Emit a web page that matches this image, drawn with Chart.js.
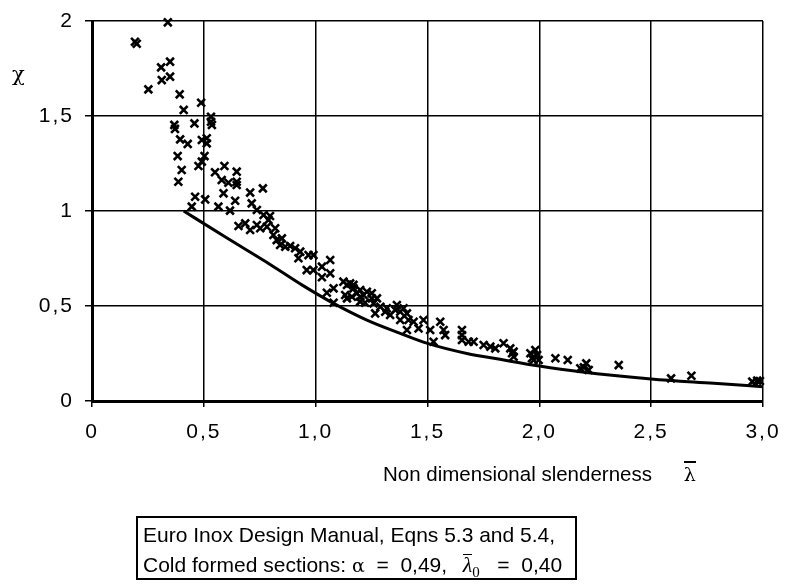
<!DOCTYPE html>
<html lang="en">
<head>
  <meta charset="UTF-8">
  <title>Buckling reduction factor vs slenderness</title>
  <script src="https://cdn.jsdelivr.net/npm/chart.js"></script>
  <style>
    body {
      margin: 0;
      background: #fff;
      font-family: 'Liberation Sans', Arial, sans-serif;
      color: #000;
    }

    .wrap {
      position: relative;
      width: 785px;
      height: 586px;
    }

    .chi {
      position: absolute;
      left: 12px;
      top: 62px;
      font-family: 'DejaVu Serif', 'Liberation Serif', serif;
      font-size: 21px;
    }

    .x-title {
      position: absolute;
      left: 383px;
      top: 461px;
      font-size: 20.5px;
      line-height: 1;
      white-space: nowrap;
    }

    .bar {
      display: inline-block;
      margin-left: 26px;
      border-top: 2px solid #000;
      padding-top: 4px;
      line-height: 0.8;
      font-family: 'DejaVu Serif', 'Liberation Serif', serif;
      font-size: 19px;
    }

    .note {
      position: absolute;
      left: 136px;
      top: 516px;
      width: 432px;
      height: 58px;
      border: 2px solid #000;
      padding: 2px 0 0 5px;
      font-size: 21px;
      line-height: 30px;
      white-space: nowrap;
    }

    .note .sym {
      font-family: 'DejaVu Serif', 'Liberation Serif', serif;
      font-size: 19px;
    }

    .note .lam {
      display: inline-block;
      border-top: 1.5px solid #000;
      line-height: 0.9;
      font-family: 'Liberation Serif', serif;
      font-style: italic;
      font-size: 22px;
      margin-left: 4px;
    }

    .note sub {
      font-family: 'Liberation Serif', serif;
      font-size: 15px;
    }
  </style>
</head>
<body>
  <div class="wrap">
    <canvas id="chart"></canvas>
    <div class="chi">χ</div>
    <div class="x-title">Non dimensional slenderness <span class="bar">λ</span></div>
    <div class="note">
      Euro Inox Design Manual, Eqns 5.3 and 5.4,<br>
      Cold formed sections: <span class="sym">α</span>&nbsp; =&nbsp; 0,49,&nbsp; <span class="lam">λ</span><sub>0</sub>&nbsp;&nbsp; =&nbsp; 0,40
    </div>
  </div>

  <script>
    // Test results
    const testLambda = [
      0.339, 0.192, 0.200, 0.309, 0.349, 0.312, 0.349, 0.252, 0.392, 0.488,
      0.410, 0.532, 0.532, 0.536, 0.368, 0.371, 0.458, 0.394, 0.428, 0.491,
      0.513, 0.513, 0.383, 0.503, 0.491, 0.476, 0.401, 0.592, 0.647, 0.550,
      0.580, 0.610, 0.647, 0.647, 0.386, 0.764, 0.707, 0.588, 0.461, 0.506,
      0.640, 0.714, 0.565, 0.446, 0.617, 0.737, 0.767, 0.796, 0.789, 0.655,
      0.685, 0.707, 0.737, 0.752, 0.782, 0.819, 0.811, 0.826, 0.849, 0.841,
      0.864, 0.886, 0.908, 0.931, 0.968, 0.990, 0.923, 0.960, 0.990, 1.028,
      1.065, 1.065, 1.028, 1.050, 1.080, 1.124, 1.140, 1.154, 1.169, 1.184,
      1.199, 1.214, 1.229, 1.251, 1.274, 1.140, 1.199, 1.221, 1.080, 1.266,
      1.169, 1.132, 1.162, 1.199, 1.251, 1.259, 1.289, 1.311, 1.318, 1.333,
      1.363, 1.356, 1.378, 1.393, 1.408, 1.378, 1.415, 1.408, 1.438, 1.460,
      1.482, 1.512, 1.557, 1.579, 1.527, 1.572, 1.654, 1.654, 1.654, 1.684,
      1.706, 1.751, 1.781, 1.803, 1.840, 1.870, 1.885, 1.885, 1.878, 1.960,
      1.967, 1.982, 1.990, 1.997, 1.975, 2.072, 2.127, 2.183, 2.210, 2.221,
      2.199, 2.355, 2.589, 2.680, 2.952, 2.974, 2.986
    ];
    const testChi = [
      1.993, 1.891, 1.880, 1.756, 1.786, 1.689, 1.707, 1.640, 1.614, 1.570,
      1.532, 1.496, 1.470, 1.453, 1.453, 1.432, 1.461, 1.377, 1.353, 1.374,
      1.383, 1.356, 1.289, 1.289, 1.260, 1.237, 1.216, 1.237, 1.207, 1.204,
      1.163, 1.149, 1.154, 1.137, 1.154, 1.119, 1.097, 1.093, 1.075, 1.061,
      1.054, 1.040, 1.023, 1.023, 1.002, 1.005, 0.979, 0.974, 0.953, 0.921,
      0.935, 0.900, 0.926, 0.909, 0.917, 0.909, 0.874, 0.847, 0.856, 0.821,
      0.812, 0.816, 0.804, 0.786, 0.768, 0.768, 0.751, 0.689, 0.689, 0.707,
      0.742, 0.672, 0.651, 0.570, 0.593, 0.628, 0.611, 0.619, 0.593, 0.567,
      0.584, 0.558, 0.575, 0.567, 0.540, 0.540, 0.523, 0.517, 0.517, 0.461,
      0.611, 0.558, 0.549, 0.549, 0.540, 0.514, 0.496, 0.470, 0.488, 0.453,
      0.505, 0.479, 0.470, 0.488, 0.461, 0.426, 0.426, 0.374, 0.417, 0.382,
      0.426, 0.374, 0.417, 0.347, 0.312, 0.374, 0.374, 0.347, 0.321, 0.312,
      0.312, 0.295, 0.286, 0.277, 0.304, 0.277, 0.260, 0.233, 0.251, 0.251,
      0.225, 0.268, 0.242, 0.216, 0.216, 0.225, 0.216, 0.172, 0.198, 0.163,
      0.177, 0.189, 0.119, 0.133, 0.102, 0.107, 0.105
    ];

    // Design curve (Eqns 5.3 / 5.4)
    const curveLambda = [0.41, 0.60, 0.80, 0.94, 1.08, 1.229, 1.378, 1.50, 1.676, 1.83, 2.00, 2.183, 2.50, 2.78, 3.00];
    const curveChi    = [1.00, 0.86, 0.716, 0.61, 0.514, 0.426, 0.356, 0.303, 0.25, 0.218, 0.184, 0.154, 0.116, 0.093, 0.075];

    // Tick labels
    const xTicks = [0, 0.5, 1, 1.5, 2, 2.5, 3];
    const xTickLabels = ['0', '0,5', '1,0', '1,5', '2,0', '2,5', '3,0'];
    const yTicks = [0, 0.5, 1, 1.5, 2];
    const yTickLabels = ['0', '0,5', '1', '1,5', '2'];

    const tests = testLambda.map((x, i) => ({ x: x, y: testChi[i] }));
    const curve = curveLambda.map((x, i) => ({ x: x, y: curveChi[i] }));

    function tickLabel(ticks, labels) {
      return function (value) {
        const i = ticks.findIndex(t => Math.abs(t - value) < 1e-6);
        return i >= 0 ? labels[i] : '';
      };
    }

    // wider letter spacing for the tick numbers
    const spacing = {
      id: 'spacing',
      beforeDraw(chart) { chart.ctx.letterSpacing = '2px'; }
    };

    new Chart(document.getElementById('chart'), {
      type: 'scatter',
      data: {
        datasets: [
          {
            label: 'Tests',
            data: tests,
            pointStyle: 'crossRot',
            pointRadius: 5.5,
            pointBorderWidth: 2.6,
            borderColor: '#000',
            backgroundColor: '#000',
            clip: false
          },
          {
            label: 'Design curve',
            type: 'line',
            data: curve,
            borderColor: '#000',
            borderWidth: 3,
            pointRadius: 0,
            cubicInterpolationMode: 'monotone',
            fill: false
          }
        ]
      },
      options: {
        responsive: true,
        maintainAspectRatio: false,
        animation: false,
        layout: { padding: { left: 0, top: 21, right: 22, bottom: 0 } },
        plugins: {
          legend: { display: false },
          tooltip: { enabled: false }
        },
        scales: {
          x: {
            type: 'linear',
            min: 0,
            max: 3,
            afterFit(scale) {
              scale.height = 185;
              scale.paddingLeft = 0;
              scale.paddingRight = 0;
            },
            afterBuildTicks(scale) { scale.ticks = xTicks.map(v => ({ value: v })); },
            ticks: {
              color: '#000',
              padding: 13,
              maxRotation: 0,
              font: { family: "'Liberation Sans', Arial, sans-serif", size: 21 },
              callback: tickLabel(xTicks, xTickLabels)
            },
            grid: { color: '#000', lineWidth: 1.5, tickLength: 6 },
            border: { color: '#000', width: 3 }
          },
          y: {
            min: 0,
            max: 2,
            afterFit(scale) {
              scale.width = 92;
              scale.paddingTop = 0;
              scale.paddingBottom = 0;
            },
            afterBuildTicks(scale) { scale.ticks = yTicks.map(v => ({ value: v })); },
            ticks: {
              color: '#000',
              padding: 11,
              font: { family: "'Liberation Sans', Arial, sans-serif", size: 21 },
              callback: tickLabel(yTicks, yTickLabels)
            },
            grid: { color: '#000', lineWidth: 1.5, tickLength: 7 },
            border: { color: '#000', width: 3 }
          }
        }
      },
      plugins: [spacing]
    });
  </script>
</body>
</html>
